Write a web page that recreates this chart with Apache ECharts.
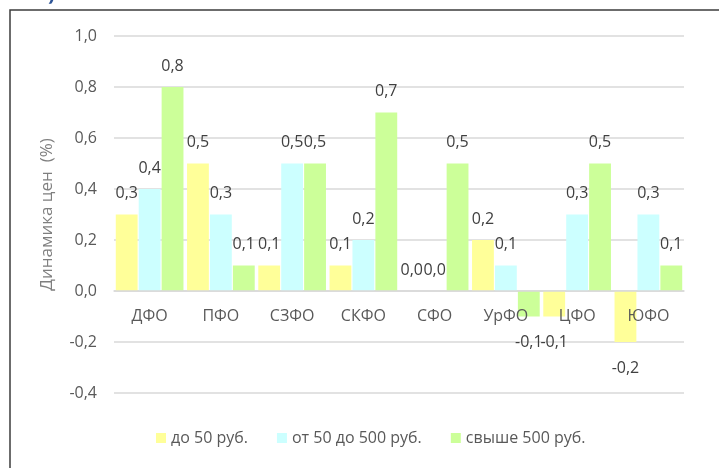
<!DOCTYPE html>
<html>
<head>
<meta charset="utf-8">
<script src="https://cdn.jsdelivr.net/npm/echarts@6/dist/echarts.min.js"></script>
<style>
html,body{margin:0;padding:0;background:#fff;}
#chart{width:719px;height:468px;}
</style>
</head>
<body>
<div id="chart"></div>
<script>
var categories = ['ДФО','ПФО','СЗФО','СКФО','СФО','УрФО','ЦФО','ЮФО'];
var seriesNames = ['до 50 руб.','от 50 до 500 руб.','свыше 500 руб.'];
var under50 = [0.3, 0.5, 0.1, 0.1, 0.0, 0.2, -0.1, -0.2];
var from50to500 = [0.4, 0.3, 0.5, 0.2, 0.0, 0.1, 0.3, 0.3];
var over500 = [0.8, 0.1, 0.5, 0.7, 0.5, -0.1, 0.5, 0.1];
var yTicks = [-0.4, -0.2, 0.0, 0.2, 0.4, 0.6, 0.8, 1.0];
var colors = ['#FFFF99', '#CCFFFF', '#CCFF99'];
var FONT = 'Open Sans';

function fmt(v){ return Number(v).toFixed(1).replace('.', ','); }

function mkSeries(name, vals, color){
  return {
    name: name,
    type: 'bar',
    barCategoryGap: '5%',
    barGap: '5%',
    itemStyle: {color: color},
    data: vals.map(function(v){
      return {
        value: v,
        label: {position: v < 0 ? 'bottom' : 'top', distance: v < 0 ? 18 : 13}
      };
    }),
    label: {
      show: true,
      color: '#404040',
      fontFamily: FONT,
      fontSize: 16,
      formatter: function(p){ return fmt(p.value); }
    }
  };
}

var chart = echarts.init(document.getElementById('chart'));
chart.setOption({
  animation: false,
  textStyle: {fontFamily: FONT},
  graphic: [
    {type: 'rect', shape: {x: 10, y: 10, width: 740, height: 500}, style: {fill: 'none', stroke: '#3c3c3c', lineWidth: 1.5}, silent: true},
    {type: 'text', x: 0, y: 5, style: {text: '2016)', font: 'bold 21px "Open Sans"', fill: '#2E5597', textVerticalAlign: 'bottom'}}
  ],
  grid: {left: 114, right: 35, top: 36, bottom: 75, containLabel: false},
  legend: {
    data: seriesNames,
    bottom: 17,
    left: 151,
    itemWidth: 10,
    itemHeight: 10,
    itemGap: 29,
    icon: 'rect',
    textStyle: {color: '#595959', fontSize: 16, fontFamily: FONT}
  },
  xAxis: {
    type: 'category',
    data: categories,
    offset: -102,
    z: 5,
    axisLine: {onZero: false, lineStyle: {color: '#d9d9d9', width: 1.5}},
    axisTick: {show: false},
    axisLabel: {color: '#595959', fontSize: 16, fontFamily: FONT, margin: 17}
  },
  yAxis: {
    type: 'value',
    min: yTicks[0],
    max: yTicks[yTicks.length - 1],
    interval: 0.2,
    name: 'Динамика цен  (%)',
    nameLocation: 'middle',
    nameGap: 58,
    nameTextStyle: {color: '#7f7f7f', fontSize: 17, fontFamily: FONT},
    axisLine: {show: false},
    axisTick: {show: false},
    axisLabel: {color: '#595959', fontSize: 16, fontFamily: FONT, margin: 17, formatter: function(v){ return fmt(v); }},
    splitLine: {lineStyle: {color: '#d9d9d9', width: 1.5}}
  },
  series: [
    mkSeries(seriesNames[0], under50, colors[0]),
    mkSeries(seriesNames[1], from50to500, colors[1]),
    mkSeries(seriesNames[2], over500, colors[2])
  ]
});
</script>
</body>
</html>
